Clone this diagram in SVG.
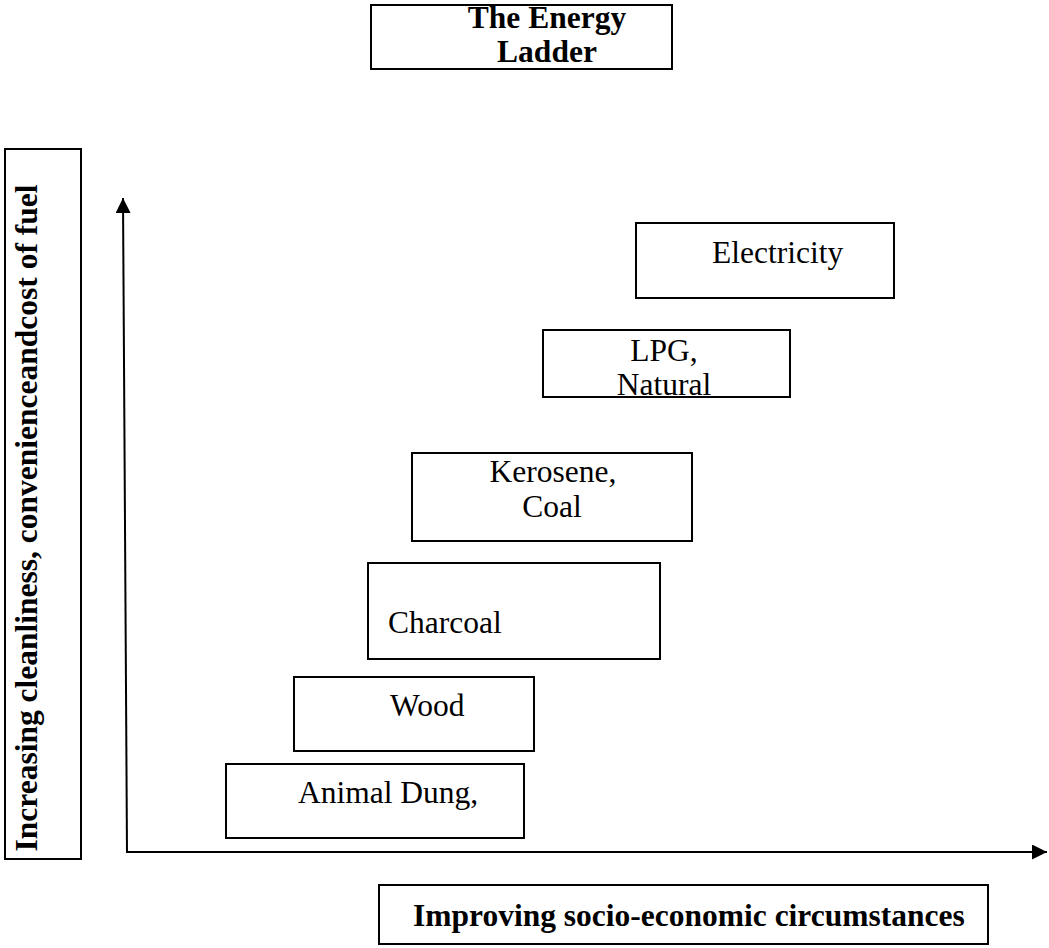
<svg xmlns="http://www.w3.org/2000/svg" width="1049" height="948" viewBox="0 0 1049 948">
  <style>
    .box { fill: #ffffff; stroke: #000000; stroke-width: 2; }
    .lbl { font-family: "Liberation Serif", "Times New Roman", serif; font-size: 31.5px; font-weight: normal; fill: #000000; }
    .bold { font-weight: bold; }
    .axis { stroke: #000000; stroke-width: 2; fill: none; }
  </style>
  <defs>
    <marker id="arr" viewBox="0 0 15 15" refX="15" refY="7.5" markerWidth="15" markerHeight="15" markerUnits="userSpaceOnUse" orient="auto">
      <path d="M0,0 L15,7.5 L0,15 z" fill="#000000"/>
    </marker>
  </defs>
  <rect width="1049" height="948" fill="#ffffff"/>

  <g id="title">
    <rect class="box" x="371" y="5" width="301" height="64"/>
    <text class="lbl bold" x="547" y="28" text-anchor="middle">The Energy</text>
    <text class="lbl bold" x="547" y="62" text-anchor="middle">Ladder</text>
  </g>

  <g id="y-label">
    <rect class="box" x="5" y="149" width="76" height="710"/>
    <text class="lbl bold" transform="translate(37,518) rotate(-90)" text-anchor="middle">Increasing cleanliness, convenienceandcost of fuel</text>
  </g>

  <g id="x-label">
    <rect class="box" x="379" y="885" width="609" height="59"/>
    <text class="lbl bold" x="413" y="926">Improving socio-economic circumstances</text>
  </g>

  <g id="connectors">
    <line class="axis" x1="127" y1="853" x2="123" y2="198" marker-end="url(#arr)"/>
    <line class="axis" x1="128" y1="852" x2="1047" y2="852" marker-end="url(#arr)"/>
  </g>

  <g id="electricity">
    <rect class="box" x="636" y="223" width="258" height="75"/>
    <text class="lbl" x="712" y="263">Electricity</text>
  </g>

  <g id="lpg">
    <rect class="box" x="543" y="330" width="247" height="67"/>
    <text class="lbl" x="664" y="361" text-anchor="middle">LPG,</text>
    <text class="lbl" x="664" y="395" text-anchor="middle">Natural</text>
  </g>

  <g id="kerosene">
    <rect class="box" x="412" y="453" width="280" height="88"/>
    <text class="lbl" x="553" y="482" text-anchor="middle">Kerosene,</text>
    <text class="lbl" x="552" y="517" text-anchor="middle">Coal</text>
  </g>

  <g id="charcoal">
    <rect class="box" x="368" y="563" width="292" height="96"/>
    <text class="lbl" x="388" y="633">Charcoal</text>
  </g>

  <g id="wood">
    <rect class="box" x="294" y="677" width="240" height="74"/>
    <text class="lbl" x="390" y="716">Wood</text>
  </g>

  <g id="animal-dung">
    <rect class="box" x="226" y="764" width="298" height="74"/>
    <text class="lbl" x="298" y="803">Animal Dung,</text>
  </g>
</svg>
